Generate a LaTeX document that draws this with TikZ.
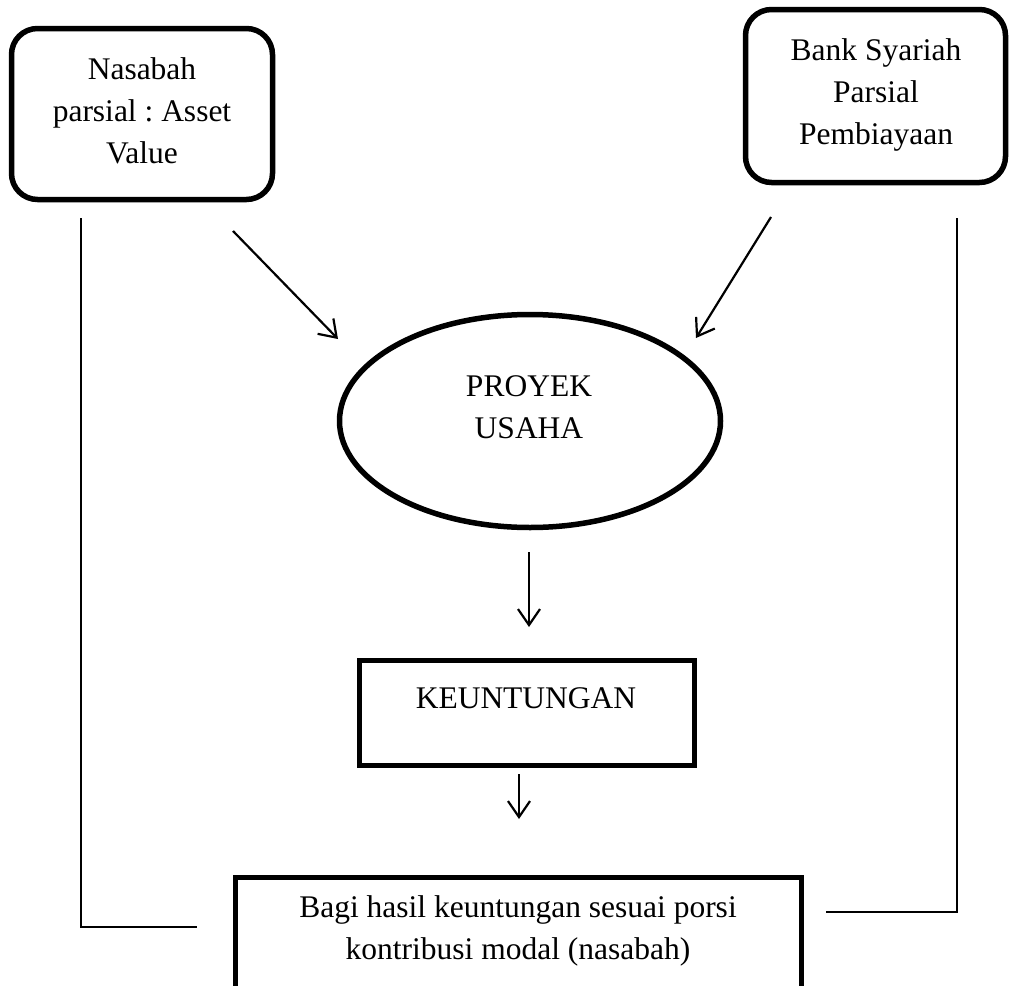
\documentclass[tikz,border=0pt]{standalone}
\usepackage{fontspec}
\setmainfont{Liberation Serif}
\frenchspacing
\usetikzlibrary{shapes.geometric,arrows.meta}
\tikzset{
  box/.style={draw, line width=5.5pt, inner sep=0pt, rectangle},
  rbox/.style={box, rounded corners=26pt},
  oval/.style={draw, line width=5.5pt, inner sep=0pt, ellipse},
  txt/.style={align=center, inner sep=0pt, font=\fontsize{31.5pt}{42pt}\selectfont},
  conn/.style={line width=2.2pt},
  arr/.style={conn, -{Straight Barb[length=16pt,width=22pt,line width=2.2pt]}}
}
\begin{document}
\begin{tikzpicture}[x=1pt,y=-1pt]
\useasboundingbox (0,0) rectangle (1009,985);
\clip (0,0) rectangle (1009,985);
% shapes
\node[rbox, minimum width=261pt, minimum height=171pt] (nas) at (142,114) {};
\node[rbox, minimum width=260pt, minimum height=173pt] (bank) at (875.5,96) {};
\node[oval, minimum width=381pt, minimum height=213pt] (proy) at (530,421) {};
\node[box, minimum width=335pt, minimum height=105pt] (untung) at (527,713) {};
\node[box, minimum width=566pt, minimum height=140pt] (bagi) at (518.5,947.5) {};
% texts
\node[txt] (nasT) at (142,111) {Nasabah\\parsial : Asset\\Value};
\node[txt] (bankT) at (876,95) {Bank Syariah\\Parsial\\Pembiayaan};
\node[txt] (proyT) at (529,407) {PROYEK\\USAHA};
\node[txt] (untungT) at (526,698) {KEUNTUNGAN};
\node[txt] (bagiT) at (518,931) {Bagi hasil keuntungan sesuai porsi\\kontribusi modal (nasabah)};
% connector ends
\coordinate (a1s) at (233,231);
\coordinate (a1e) at (338,339);
\coordinate (a2s) at (771,217);
\coordinate (a2e) at (696,338);
\coordinate (a3s) at (529,552);
\coordinate (a3e) at (529,627);
\coordinate (a4s) at (519,774);
\coordinate (a4e) at (519,819);
\coordinate (ls) at (81,218);
\coordinate (lc) at (81,927);
\coordinate (le) at (197,927);
\coordinate (rs) at (957,218);
\coordinate (rc) at (957,912);
\coordinate (re) at (826,912);
% connectors
\draw[arr] (a1s) -- (a1e);
\draw[arr] (a2s) -- (a2e);
\draw[arr] (a3s) -- (a3e);
\draw[arr] (a4s) -- (a4e);
\draw[conn] (ls) -- (lc) -- (le);
\draw[conn] (rs) -- (rc) -- (re);
\end{tikzpicture}
\end{document}
